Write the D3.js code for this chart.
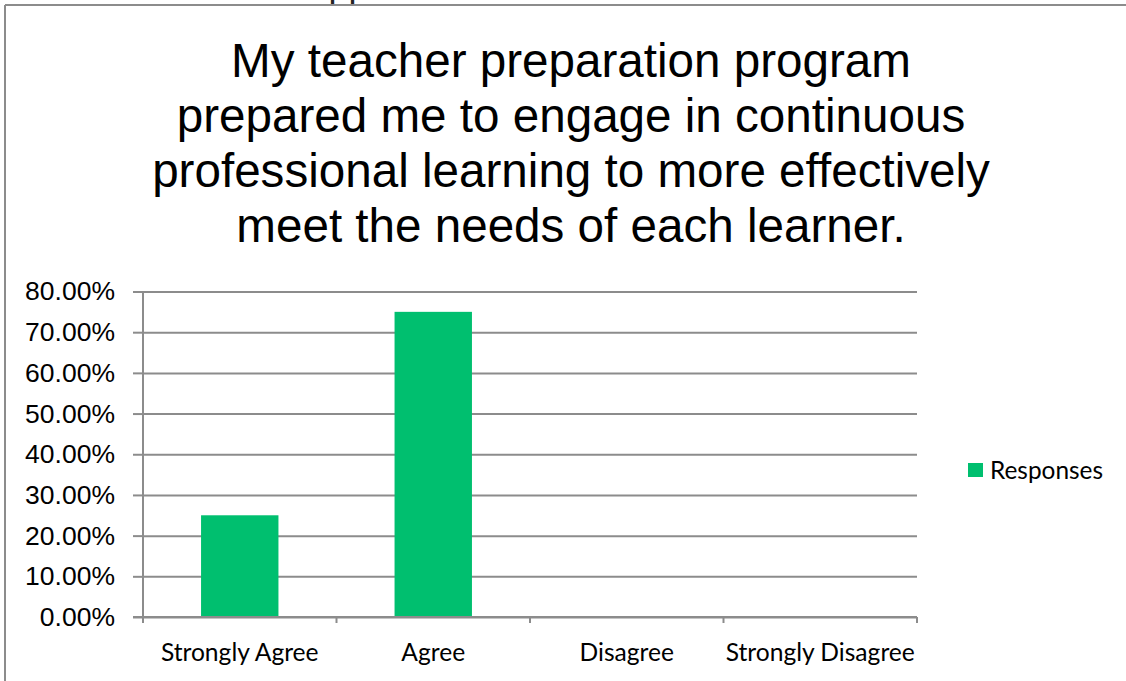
<!DOCTYPE html>
<html>
<head>
<meta charset="utf-8">
<script src="https://cdn.jsdelivr.net/npm/d3@7"></script>
<style>
  html, body { margin: 0; padding: 0; background: #fff; }
  svg { display: block; }
</style>
</head>
<body>
<div id="chart"></div>
<script>
// data
var categories = ["Strongly Agree", "Agree", "Disagree", "Strongly Disagree"];
var responses = [0.25, 0.75, 0, 0];
var yTicks = [0, 0.1, 0.2, 0.3, 0.4, 0.5, 0.6, 0.7, 0.8];
var titleLines = [
  "My teacher preparation program",
  "prepared me to engage in continuous",
  "professional learning to more effectively",
  "meet the needs of each learner."
];
var seriesName = "Responses";

var svgWidth = 1126;
var svgHeight = 681;

var plot = { left: 143, right: 917, top: 291.5, bottom: 617 };
var barColor = "#00BF6F";
var lineColor = "#8c8c8c";

var svg = d3.select("#chart")
    .append("svg")
    .attr("width", svgWidth)
    .attr("height", svgHeight);

// clipped bit of the slide heading above the chart
svg.append("text")
    .attr("x", 328.5)
    .attr("y", -4.5)
    .attr("font-family", "Liberation Sans, Arial, sans-serif")
    .attr("font-size", 36)
    .attr("fill", "#222")
    .text("pp");

// chart frame (top and left edges visible)
svg.append("line")
    .attr("x1", 5).attr("x2", svgWidth)
    .attr("y1", 5).attr("y2", 5)
    .attr("stroke", lineColor).attr("stroke-width", 2);
svg.append("line")
    .attr("x1", 5).attr("x2", 5)
    .attr("y1", 5).attr("y2", svgHeight)
    .attr("stroke", lineColor).attr("stroke-width", 2);

// title
var title = svg.append("text")
    .attr("text-anchor", "middle")
    .attr("font-family", "Liberation Sans, Arial, sans-serif")
    .attr("font-size", 47.6)
    .attr("fill", "#000");
title.selectAll("tspan")
    .data(titleLines)
    .enter()
    .append("tspan")
    .attr("x", 571)
    .attr("y", (d, i) => 76.7 + i * 55)
    .text(d => d);

var xScale = d3.scaleBand()
    .domain(categories)
    .range([plot.left, plot.right])
    .paddingInner(0.6)
    .paddingOuter(0.3);

var yScale = d3.scaleLinear()
    .domain([0, 0.8])
    .range([plot.bottom, plot.top]);

// gridlines
svg.append("g")
    .attr("transform", `translate(${plot.left},0)`)
    .call(d3.axisLeft(yScale).tickValues(yTicks).tickSize(-(plot.right - plot.left)).tickFormat(""))
    .call(g => g.select(".domain").remove())
    .selectAll("line")
    .attr("stroke", lineColor)
    .attr("stroke-width", 2);

// bars
svg.selectAll(".bar")
    .data(categories)
    .enter()
    .append("rect")
    .attr("class", "bar")
    .attr("x", d => xScale(d))
    .attr("width", xScale.bandwidth())
    .attr("y", (d, i) => yScale(responses[i]))
    .attr("height", (d, i) => yScale(0) - yScale(responses[i]))
    .attr("fill", barColor);

// y axis
var yAxis = svg.append("g")
    .attr("transform", `translate(${plot.left},0)`)
    .call(d3.axisLeft(yScale).tickValues(yTicks).tickSize(10).tickPadding(18)
        .tickFormat(d => (d * 100).toFixed(2) + "%"));
yAxis.select(".domain").remove();
yAxis.selectAll("line").attr("stroke", lineColor).attr("stroke-width", 2);
yAxis.selectAll("text")
    .attr("font-family", "Liberation Sans, Arial, sans-serif")
    .attr("font-size", 26.5)
    .attr("fill", "#000");

svg.append("line")
    .attr("x1", plot.left).attr("x2", plot.left)
    .attr("y1", plot.top).attr("y2", plot.bottom + 6)
    .attr("stroke", lineColor).attr("stroke-width", 2);

// x axis: baseline, boundary ticks, labels
svg.append("line")
    .attr("x1", plot.left - 10).attr("x2", plot.right)
    .attr("y1", plot.bottom).attr("y2", plot.bottom)
    .attr("stroke", lineColor).attr("stroke-width", 2);

var bounds = d3.range(categories.length + 1).map(i => plot.left + i * xScale.step());
svg.selectAll(".xtick")
    .data(bounds)
    .enter()
    .append("line")
    .attr("class", "xtick")
    .attr("x1", d => d).attr("x2", d => d)
    .attr("y1", plot.bottom).attr("y2", plot.bottom + 6)
    .attr("stroke", lineColor).attr("stroke-width", 2);

svg.selectAll(".xlabel")
    .data(categories)
    .enter()
    .append("text")
    .attr("class", "xlabel")
    .attr("x", d => xScale(d) + xScale.bandwidth() / 2)
    .attr("y", 661)
    .attr("text-anchor", "middle")
    .attr("font-family", "Lato, sans-serif")
    .attr("font-size", 24.6)
    .attr("fill", "#000")
    .text(d => d);

// legend
svg.append("rect")
    .attr("x", 968).attr("y", 463)
    .attr("width", 15).attr("height", 14)
    .attr("fill", barColor);
svg.append("text")
    .attr("x", 990)
    .attr("y", 479)
    .attr("font-family", "Lato, sans-serif")
    .attr("font-size", 24.4)
    .attr("fill", "#000")
    .text(seriesName);
</script>
</body>
</html>
